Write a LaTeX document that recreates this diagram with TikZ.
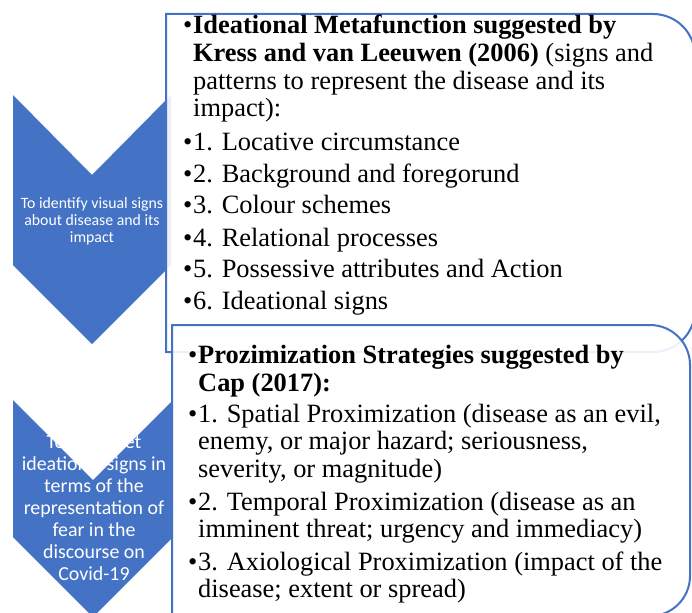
\documentclass[tikz,border=0pt]{standalone}
\usepackage{fontspec}
\setmainfont{Liberation Serif}
\newfontfamily\calibri{Carlito}
\definecolor{obl}{HTML}{4472C4}
\begin{document}
\begin{tikzpicture}[x=1pt,y=-1pt,
  chev/.style={fill=obl, draw=none},
  boxshape/.style={draw=obl, line width=2pt, fill=white, fill opacity=0.9},
  ln/.style={anchor=base west, inner sep=0pt, font=\fontsize{26.4}{28}\selectfont},
  ctxtA/.style={text=white, inner sep=0pt, anchor=base, font=\calibri\fontsize{15.8}{17}\selectfont},
  ctxtB/.style={text=white, inner sep=0pt, anchor=base, font=\calibri\fontsize{19.9}{22}\selectfont}
]
\useasboundingbox (0,0) rectangle (692,612);

% chevrons
\fill[chev] (13,95) -- (92,175) -- (171,95) -- (171,265) -- (92,344) -- (13,265) -- cycle;
\fill[chev] (13,400) -- (93,480) -- (173,400) -- (173,537) -- (93,617) -- (13,537) -- cycle;

\node[ctxtA] (c1a) at (92,208) {To identify visual signs};
\node[ctxtA] (c1b) at (92,225) {about disease and its};
\node[ctxtA] (c1c) at (92,242) {impact};

\node[ctxtB] (c2a) at (94,448.5) {To interpret};
\node[ctxtB] (c2b) at (94,470.5) {ideational signs in};
\node[ctxtB] (c2c) at (94,492) {terms of the};
\node[ctxtB] (c2d) at (94,514) {representation of};
\node[ctxtB] (c2e) at (94,536) {fear in the};
\node[ctxtB] (c2f) at (94,558) {discourse on};
\node[ctxtB] (c2g) at (94,580) {Covid-19};

% boxes
\draw[boxshape] (166,14) -- (653,14) arc[start angle=90,end angle=0,radius=42pt]
  -- (695,310) arc[start angle=0,end angle=-90,radius=42pt] -- (166,352) -- cycle;

\node[ln] (b1) at (183,34) {•};
\node[ln] (t1) at (193,34) {\textbf{Ideational Metafunction suggested by}};
\node[ln] (t2) at (193,62) {\textbf{Kress and van Leeuwen (2006)} (signs and};
\node[ln] (t3) at (193,89.5) {patterns to represent the disease and its};
\node[ln] (t4) at (193,117) {impact):};
\node[ln] (b2) at (183,150.5) {•};
\node[ln] (t5) at (193,150.5) {1. Locative circumstance};
\node[ln] (b3) at (183,182.5) {•};
\node[ln] (t6) at (193,182.5) {2. Background and foregorund};
\node[ln] (b4) at (183,214) {•};
\node[ln] (t7) at (193,214) {3. Colour schemes};
\node[ln] (b5) at (183,246) {•};
\node[ln] (t8) at (193,246) {4. Relational processes};
\node[ln] (b6) at (183,277.5) {•};
\node[ln] (t9) at (193,277.5) {5. Possessive attributes and Action};
\node[ln] (b7) at (183,309) {•};
\node[ln] (t10) at (193,309) {6. Ideational signs};

\draw[boxshape] (172,325) -- (650,325) arc[start angle=90,end angle=0,radius=40pt]
  -- (690,576) arc[start angle=0,end angle=-90,radius=40pt] -- (172,616) -- cycle;

\node[ln] (d1) at (188,363) {•};
\node[ln] (s1) at (198,363) {\textbf{Prozimization Strategies suggested by}};
\node[ln] (s2) at (198,391) {\textbf{Cap (2017):}};
\node[ln] (d2) at (188,422) {•};
\node[ln] (s3) at (198,422) {1. Spatial Proximization (disease as an evil,};
\node[ln] (s4) at (198,449.5) {enemy, or major hazard; seriousness,};
\node[ln] (s5) at (198,477) {severity, or magnitude)};
\node[ln] (d3) at (188,510) {•};
\node[ln] (s6) at (198,510) {2. Temporal Proximization (disease as an};
\node[ln] (s7) at (198,537.5) {imminent threat; urgency and immediacy)};
\node[ln] (d4) at (188,570) {•};
\node[ln] (s8) at (198,570) {3. Axiological Proximization (impact of the};
\node[ln] (s9) at (198,597.5) {disease; extent or spread)};
\end{tikzpicture}
\end{document}
